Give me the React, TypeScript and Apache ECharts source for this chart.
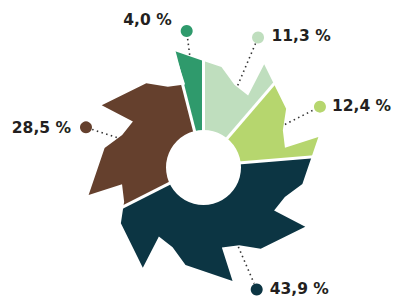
import React, { useEffect, useRef } from 'react';
import * as echarts from 'echarts';

// ---- data ----
const segments = ['Segment A', 'Segment B', 'Segment C', 'Segment D', 'Segment E'];
const values = [11.3, 12.4, 43.9, 28.5, 4.0];

// ---- style / layout ----
const COLORS = ['#bfdebe', '#b6d66e', '#0c3543', '#65402d', '#2f9a6c'];
const CX = 203.5;
const CY = 166;
const HOLE_CY = 167.5;
const HOLE_R = 37.5;
const TOOTH_COUNT = 8;
const TOOTH_PHASE = 30.8;
// [angle offset from tip (deg, clockwise), radius]
const TOOTH_PROFILE: [number, number][] = [
  [0, 118.5],
  [24.5, 100.5],
  [35, 87],
  [46.5, 83.5],
];
const LABEL_ANGLE = [23, 63, 156.7, 288.2, 352.9];
const LABEL_R = [139.6, 130.7, 134.5, 123.7, 136];
// text placement relative to the dot: [dx, dy, align]
const LABEL_TEXT: [number, number, string][] = [
  [13.5, -1.5, 'left'],
  [12, -1, 'left'],
  [13, -1, 'left'],
  [-15, 0.5, 'right'],
  [-15, -11.3, 'right'],
];
const TEXT_COLOR = '#231f20';
const LEADER_COLOR = '#333333';

type P = [number, number];

const pt = (deg: number, r: number, cy: number = CY): P => {
  const a = (deg * Math.PI) / 180;
  return [CX + r * Math.sin(a), cy - r * Math.cos(a)];
};

const sawPolygon = (): P[] => {
  const pts: P[] = [];
  for (let k = 0; k < TOOTH_COUNT; k++) {
    const T = TOOTH_PHASE + (360 / TOOTH_COUNT) * k;
    for (const [off, r] of TOOTH_PROFILE) pts.push(pt(T + off, r));
  }
  return pts;
};

const clipPoly = (subject: P[], clipper: P[]): P[] => {
  let area = 0;
  for (let i = 0; i < clipper.length; i++) {
    const a = clipper[i];
    const b = clipper[(i + 1) % clipper.length];
    area += a[0] * b[1] - b[0] * a[1];
  }
  const s = Math.sign(area);
  let out = subject;
  for (let i = 0; i < clipper.length; i++) {
    const a = clipper[i];
    const b = clipper[(i + 1) % clipper.length];
    const inside = (p: P) => s * ((b[0] - a[0]) * (p[1] - a[1]) - (b[1] - a[1]) * (p[0] - a[0])) >= 0;
    const inter = (p: P, q: P): P => {
      const dx1 = q[0] - p[0];
      const dy1 = q[1] - p[1];
      const dx2 = b[0] - a[0];
      const dy2 = b[1] - a[1];
      const den = dx1 * dy2 - dy1 * dx2;
      const t = ((a[0] - p[0]) * dy2 - (a[1] - p[1]) * dx2) / den;
      return [p[0] + t * dx1, p[1] + t * dy1];
    };
    const input = out;
    out = [];
    for (let j = 0; j < input.length; j++) {
      const cur = input[j];
      const prev = input[(j + input.length - 1) % input.length];
      const ci = inside(cur);
      const pi = inside(prev);
      if (ci) {
        if (!pi) out.push(inter(prev, cur));
        out.push(cur);
      } else if (pi) {
        out.push(inter(prev, cur));
      }
    }
    if (!out.length) break;
  }
  return out;
};

const wedge = (a0: number, a1: number): P[] => {
  const pts: P[] = [[CX, CY]];
  const steps = Math.max(1, Math.ceil((a1 - a0) / 10));
  for (let i = 0; i <= steps; i++) pts.push(pt(a0 + ((a1 - a0) * i) / steps, 400));
  return pts;
};

const edgeRadius = (saw: P[], deg: number): number => {
  const a = (deg * Math.PI) / 180;
  const dx = Math.sin(a);
  const dy = -Math.cos(a);
  let best = 0;
  for (let i = 0; i < saw.length; i++) {
    const p = saw[i];
    const q = saw[(i + 1) % saw.length];
    const ex = q[0] - p[0];
    const ey = q[1] - p[1];
    const den = dx * ey - dy * ex;
    if (Math.abs(den) < 1e-9) continue;
    const px = p[0] - CX;
    const py = p[1] - CY;
    const t = (px * ey - py * ex) / den;
    const u = (px * dy - py * dx) / den;
    if (t > 0 && u >= 0 && u <= 1) best = Math.max(best, t);
  }
  return best;
};

const fmt = (v: number) => v.toFixed(1).replace('.', ',') + ' %';

export default function App() {
  const ref = useRef<HTMLDivElement>(null);
  useEffect(() => {
    if (!ref.current) return;
    const chart = echarts.init(ref.current, undefined, { renderer: 'svg' });
    const saw = sawPolygon();
    const total = values.reduce((s, v) => s + v, 0);

    const renderItem = (params: any, api: any) => {
      const i = params.dataIndex;
      let start = 0;
      for (let k = 0; k < i; k++) start += (values[k] / total) * 360;
      const end = start + (api.value(0) / total) * 360;
      const poly = clipPoly(saw, wedge(start, end));
      const color = COLORS[i % COLORS.length];
      const children: any[] = [];
      children.push({
        type: 'polygon',
        shape: { points: poly },
        style: { fill: color },
        z2: 0,
      });
      const g0 = pt(start, 20);
      const g1 = pt(start, 135);
      children.push({
        type: 'line',
        shape: { x1: g0[0], y1: g0[1], x2: g1[0], y2: g1[1] },
        style: { stroke: '#ffffff', lineWidth: 3 },
        z2: 10,
      });
      if (i === 0) {
        children.push({
          type: 'circle',
          shape: { cx: CX, cy: HOLE_CY, r: HOLE_R },
          style: { fill: '#ffffff' },
          z2: 20,
        });
      }
      const la = LABEL_ANGLE[i];
      const dot = pt(la, LABEL_R[i]);
      const r0 = edgeRadius(saw, la) + 1.5;
      const l0 = pt(la, r0);
      const l1 = pt(la, LABEL_R[i] - 6.5);
      children.push({
        type: 'line',
        shape: { x1: l0[0], y1: l0[1], x2: l1[0], y2: l1[1] },
        style: { stroke: LEADER_COLOR, lineWidth: 1.6, lineDash: [1.5, 3.4] },
        z2: 25,
      });
      children.push({
        type: 'circle',
        shape: { cx: dot[0], cy: dot[1], r: 6 },
        style: { fill: color },
        z2: 26,
      });
      const [tdx, tdy, align] = LABEL_TEXT[i];
      children.push({
        type: 'text',
        style: {
          text: fmt(api.value(0)),
          x: dot[0] + tdx,
          y: dot[1] + tdy,
          fill: TEXT_COLOR,
          fontFamily: 'DejaVu Sans',
          fontWeight: 'bold',
          fontSize: 15.5,
          align,
          verticalAlign: 'middle',
        },
        z2: 30,
      });
      return { type: 'group', children };
    };

    chart.setOption({
      animation: false,
      series: [
        {
          type: 'custom',
          coordinateSystem: 'none',
          renderItem,
          data: values.map((v, i) => ({ name: segments[i], value: [v] })),
        },
      ],
    });
    return () => chart.dispose();
  }, []);
  return (
    <div
      ref={ref}
      style={{ position: 'fixed', left: 0, top: 0, width: 394, height: 297, background: '#ffffff' }}
    />
  );
}
